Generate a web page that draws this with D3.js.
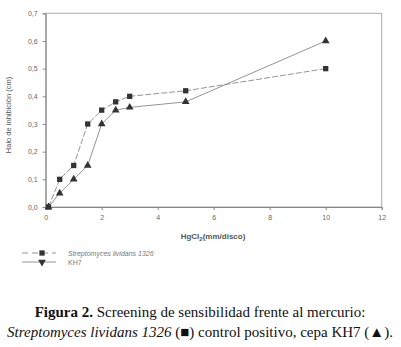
<!DOCTYPE html>
<html>
<head>
<meta charset="utf-8">
<style>
body { margin: 0; background: #fff; }
svg text { font-family: "Liberation Sans", Arial, sans-serif; }
.cap { font-family: "Liberation Serif", "DejaVu Serif", serif; font-size: 15px; fill: #111; }
</style>
<script src="https://d3js.org/d3.v7.min.js"></script>
</head>
<body>
<script>
// dosis HgCl2 (mm/disco)
var dosis = [0.1, 0.5, 1, 1.5, 2, 2.5, 3, 5, 10];
var lividans = [0, 0.1, 0.15, 0.3, 0.35, 0.38, 0.40, 0.42, 0.50];
var kh7 = [0, 0.05, 0.1, 0.15, 0.3, 0.35, 0.36, 0.38, 0.60];
var xTicks = [0, 2, 4, 6, 8, 10, 12];
var yTicks = [0, 0.1, 0.2, 0.3, 0.4, 0.5, 0.6, 0.7];

var width = 401, height = 347;
var svg = d3.select("body").append("svg").attr("width", width).attr("height", height);

var x = d3.scaleLinear().domain([0, 12]).range([45.7, 381.7]);
var y = d3.scaleLinear().domain([0, 0.7]).range([207, 13.3]);

// marco
svg.append("rect").attr("x", x(0)).attr("y", y(0.7))
	.attr("width", x(12) - x(0)).attr("height", y(0) - y(0.7))
	.attr("fill", "none").attr("stroke", "#aaa").attr("stroke-width", 1);

var fmt = function(d) { return d3.format(".1f")(d).replace(".", ","); };

var gx = svg.append("g").attr("transform", "translate(0," + y(0) + ")")
	.call(d3.axisBottom(x).tickValues(xTicks).tickSize(3).tickPadding(5));
var gy = svg.append("g").attr("transform", "translate(" + x(0) + ",0)")
	.call(d3.axisLeft(y).tickValues(yTicks).tickFormat(fmt).tickSize(3).tickPadding(5));
[gx, gy].forEach(function(g) {
	g.select(".domain").attr("stroke", "#888");
	g.selectAll(".tick line").attr("stroke", "#888");
	g.selectAll(".tick text").attr("fill", "#666").style("font-size", "7px");
});

var pts1 = dosis.map(function(d, i) { return [d, lividans[i]]; });
var pts2 = dosis.map(function(d, i) { return [d, kh7[i]]; });

var line = d3.line()
	.x(function(d) { return x(d[0]); })
	.y(function(d) { return y(d[1]); });

svg.append("path").datum(pts1).attr("d", line)
	.attr("fill", "none").attr("stroke", "#888").attr("stroke-width", 0.9)
	.attr("stroke-dasharray", "6,2");
svg.append("path").datum(pts2).attr("d", line)
	.attr("fill", "none").attr("stroke", "#888").attr("stroke-width", 0.9);

var sq = d3.symbol().type(d3.symbolSquare).size(28);
var tri = d3.symbol().type(d3.symbolTriangle).size(26);

svg.selectAll(".sq").data(pts1).enter().append("path")
	.attr("transform", function(d) { return "translate(" + x(d[0]) + "," + y(d[1]) + ")"; })
	.attr("d", sq).attr("fill", "#333");
svg.selectAll(".tri").data(pts2).enter().append("path")
	.attr("transform", function(d) { return "translate(" + x(d[0]) + "," + y(d[1]) + ")"; })
	.attr("d", tri).attr("fill", "#333");

// titulos de ejes
var xl = svg.append("text").attr("x", 213).attr("y", 239).attr("text-anchor", "middle")
	.style("font-size", "8px").style("font-weight", "bold").attr("fill", "#555");
xl.append("tspan").text("HgCl");
xl.append("tspan").attr("dy", 2).style("font-size", "6px").text("2");
xl.append("tspan").attr("dy", -2).text("(mm/disco)");

svg.append("text").attr("transform", "translate(11,115) rotate(-90)")
	.attr("text-anchor", "middle").style("font-size", "7.5px").attr("fill", "#555")
	.text("Halo de inhibición (cm)");

// leyenda
var lg = svg.append("g");
lg.append("line").attr("x1", 22).attr("x2", 56).attr("y1", 253).attr("y2", 253)
	.attr("stroke", "#888").attr("stroke-width", 0.9).attr("stroke-dasharray", "6,4");
lg.append("path").attr("transform", "translate(42,253)").attr("d", sq).attr("fill", "#333");
lg.append("text").attr("x", 68).attr("y", 256).style("font-size", "7px")
	.style("font-style", "italic").attr("fill", "#777").text("Streptomyces lividans 1326");
lg.append("line").attr("x1", 22).attr("x2", 56).attr("y1", 262).attr("y2", 262)
	.attr("stroke", "#888").attr("stroke-width", 0.9);
lg.append("path").attr("transform", "translate(42,262) rotate(180)").attr("d", tri).attr("fill", "#333");
lg.append("text").attr("x", 68).attr("y", 265).style("font-size", "7px")
	.attr("fill", "#777").text("KH7");

// pie de figura
var c1 = svg.append("text").attr("class", "cap").attr("x", 200).attr("y", 317).attr("text-anchor", "middle");
c1.append("tspan").style("font-weight", "bold").text("Figura 2.");
c1.append("tspan").text(" Screening de sensibilidad frente al mercurio:");
var c2 = svg.append("text").attr("class", "cap").attr("x", 200).attr("y", 337).attr("text-anchor", "middle");
c2.append("tspan").style("font-style", "italic").text("Streptomyces lividans 1326");
c2.append("tspan").text(" (■) control positivo, cepa KH7 (▲).");
</script>
</body>
</html>
